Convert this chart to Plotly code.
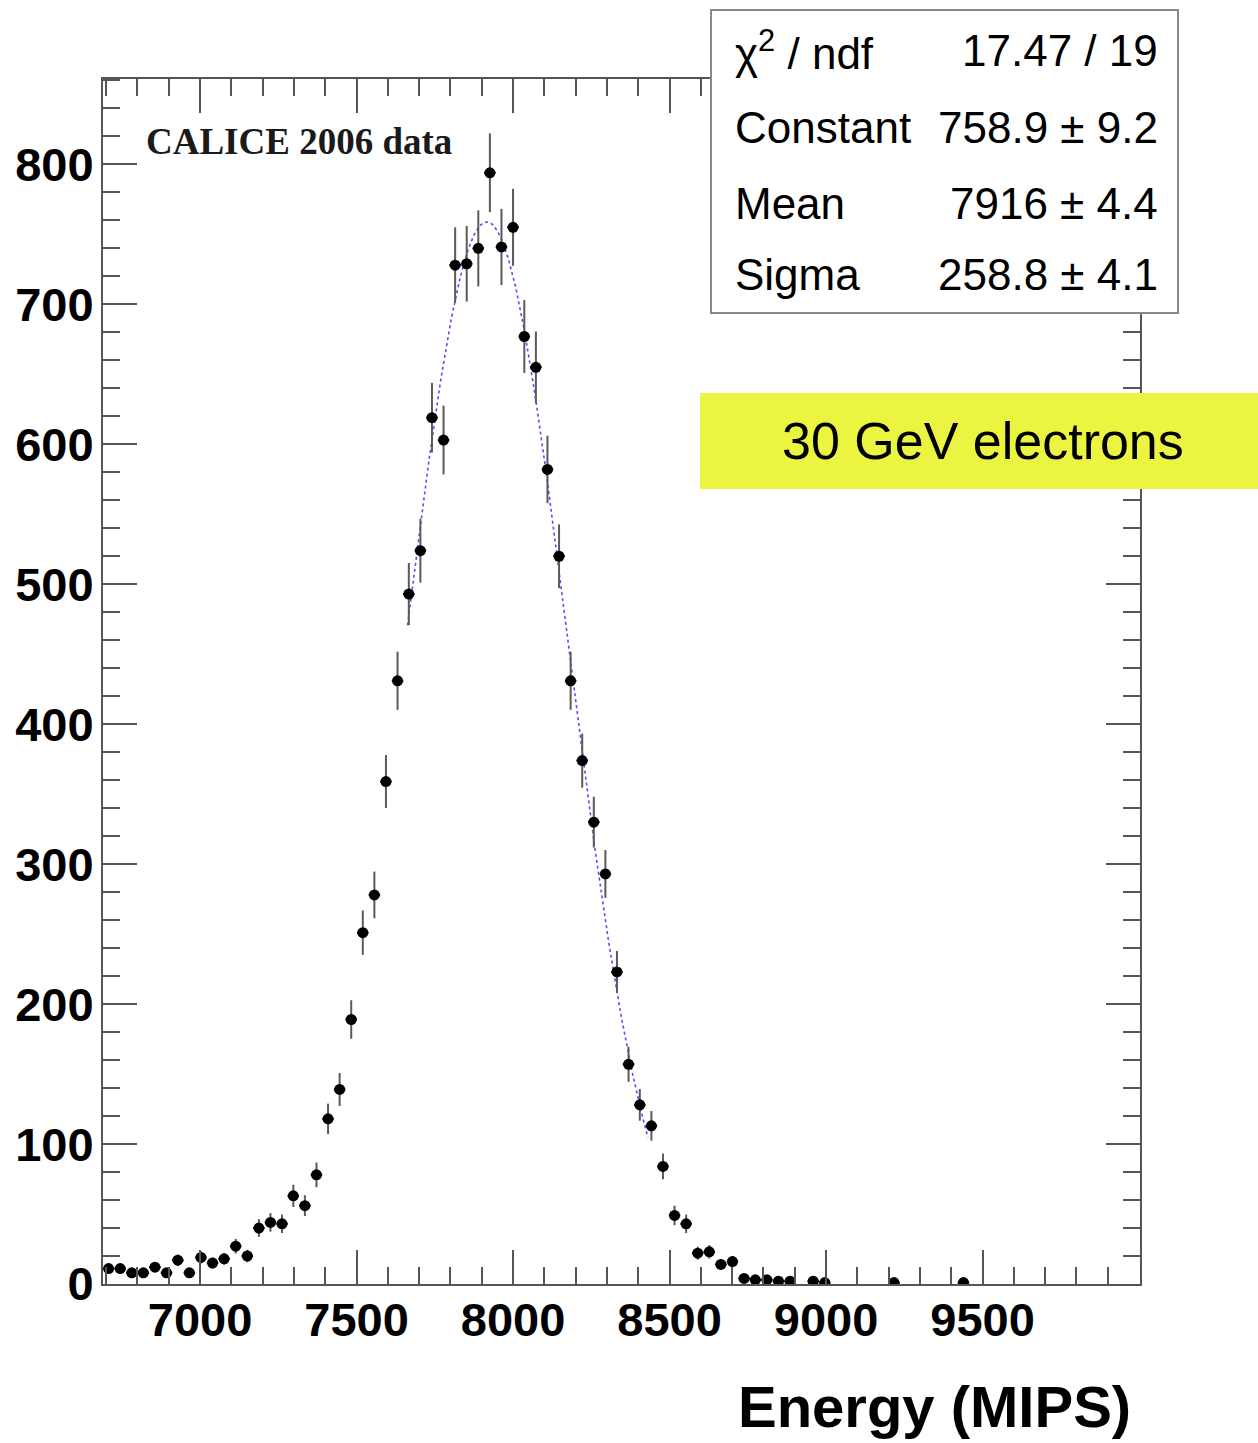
import numpy as np
import plotly.graph_objects as go

# ---- data ----
energy = [6708, 6745, 6782, 6819, 6856, 6893, 6929, 6966, 7003, 7040,
          7077, 7114, 7151, 7188, 7225, 7262, 7298, 7335, 7372, 7409,
          7446, 7483, 7520, 7557, 7594, 7631, 7667, 7704, 7741, 7778,
          7815, 7852, 7889, 7926, 7963, 8000, 8036, 8073, 8110, 8147,
          8184, 8221, 8258, 8295, 8332, 8369, 8405, 8442, 8479, 8516,
          8553, 8590, 8627, 8664, 8701, 8738, 8774, 8811, 8848, 8885,
          8959, 8996, 9217, 9439]
counts = [11, 11, 8, 8, 12, 8, 17, 8, 19, 15,
          18, 27, 20, 40, 44, 43, 63, 56, 78, 118,
          139, 189, 251, 278, 359, 431, 493, 524, 619, 603,
          728, 729, 740, 794, 741, 755, 677, 655, 582, 520,
          431, 374, 330, 293, 223, 157, 128, 113, 84, 49,
          43, 22, 23, 14, 16, 4, 3, 3, 2, 2,
          2, 1, 1, 1]
half_bin = 18.45

fit_constant = 758.9
fit_mean = 7916.0
fit_sigma = 258.8
fit_range = [7663, 8431]

stat_labels = ["χ<sup>2</sup> / ndf", "Constant", "Mean", "Sigma"]
stat_values = ["17.47 / 19", "758.9 ± 9.2", "7916 ± 4.4", "258.8 ± 4.1"]

x_tickvals = [7000, 7500, 8000, 8500, 9000, 9500]
y_tickvals = [0, 100, 200, 300, 400, 500, 600, 700, 800]

x_range = [6690, 10003]
y_range = [0, 861]

# ---- figure geometry (pixels) ----
W, H = 1258, 1443
L, R, T, B = 103, 1140, 79, 1284


def px(xp):
    return (xp - L) / (R - L)


def py(yp):
    return (B - yp) / (B - T)


counts_arr = np.array(counts, dtype=float)
errors = np.sqrt(counts_arr)

xf = np.linspace(fit_range[0], fit_range[1], 300)
yf = fit_constant * np.exp(-0.5 * ((xf - fit_mean) / fit_sigma) ** 2)

fig = go.Figure()
fig.add_trace(go.Scatter(
    x=xf, y=yf, mode="lines",
    line=dict(color="#5050ff", width=1.6, dash="dot"),
    hoverinfo="skip", showlegend=False))
fig.add_trace(go.Scatter(
    x=energy, y=counts, mode="markers",
    marker=dict(color="black", size=11, symbol="circle"),
    error_y=dict(type="data", array=errors, color="#5a5a5a", thickness=2, width=0),
    error_x=dict(type="constant", value=half_bin, color="#111111", thickness=2, width=0),
    showlegend=False))

tick_font = dict(family="Liberation Sans, Arial, sans-serif",
                 size=47, color="black", weight="bold")

fig.update_xaxes(
    range=x_range, tickmode="array",
    tickvals=x_tickvals, ticktext=[str(v) for v in x_tickvals],
    ticks="inside", ticklen=34, tickwidth=2, tickcolor="#555555",
    minor=dict(ticks="inside", ticklen=17, dtick=100, tick0=7000, tickwidth=2, tickcolor="#555555"),
    showline=True, linecolor="#555555", linewidth=2, mirror="ticks",
    showgrid=False, zeroline=False, tickfont=tick_font, ticklabelstandoff=-6,
    automargin=False)
fig.update_yaxes(
    range=y_range, tickmode="array",
    tickvals=y_tickvals, ticktext=[str(v) for v in y_tickvals],
    ticks="inside", ticklen=34, tickwidth=2, tickcolor="#555555",
    minor=dict(ticks="inside", ticklen=17, dtick=20, tick0=0, tickwidth=2, tickcolor="#555555"),
    showline=True, linecolor="#555555", linewidth=2, mirror="ticks",
    showgrid=False, zeroline=False, tickfont=tick_font, ticklabelstandoff=-2,
    automargin=False)

shapes = [
    dict(type="rect", xref="paper", yref="paper",
         x0=px(711), x1=px(1178), y0=py(10), y1=py(313),
         fillcolor="white", line=dict(color="#888888", width=2), layer="above"),
    dict(type="rect", xref="paper", yref="paper",
         x0=px(700), x1=px(1258), y0=py(393), y1=py(489),
         fillcolor="#ecf442", line=dict(width=0), layer="above"),
]

stat_font = dict(family="Liberation Sans, Arial, sans-serif", size=44, color="black")
row_y = [50, 128, 204, 274]
annotations = []
for lab, val, yy in zip(stat_labels, stat_values, row_y):
    annotations.append(dict(text=lab, xref="paper", yref="paper", x=px(733), y=py(yy),
                            xanchor="left", yanchor="middle", showarrow=False, font=stat_font))
    annotations.append(dict(text=val, xref="paper", yref="paper", x=px(1160), y=py(yy),
                            xanchor="right", yanchor="middle", showarrow=False, font=stat_font))

annotations.append(dict(text="30 GeV electrons", xref="paper", yref="paper",
                        x=px(983), y=py(441), xanchor="center", yanchor="middle",
                        showarrow=False,
                        font=dict(family="Liberation Sans, Arial, sans-serif", size=52, color="black")))
annotations.append(dict(text="CALICE 2006 data", xref="paper", yref="paper",
                        x=px(144), y=py(141), xanchor="left", yanchor="middle",
                        showarrow=False,
                        font=dict(family="Liberation Serif, Times New Roman, serif", size=37,
                                  color="#1a1a1a", weight="bold")))
annotations.append(dict(text="Energy (MIPS)", xref="paper", yref="paper",
                        x=px(1133), y=py(1406), xanchor="right", yanchor="middle",
                        showarrow=False, font=dict(tick_font, size=58)))

fig.update_layout(
    width=W, height=H, autosize=False,
    margin=dict(l=L, r=W - R, t=T, b=H - B, pad=0),
    paper_bgcolor="white", plot_bgcolor="white",
    shapes=shapes, annotations=annotations,
    showlegend=False)

fig.write_html("out.html", include_plotlyjs=True, full_html=True,
               config=dict(displayModeBar=False))
